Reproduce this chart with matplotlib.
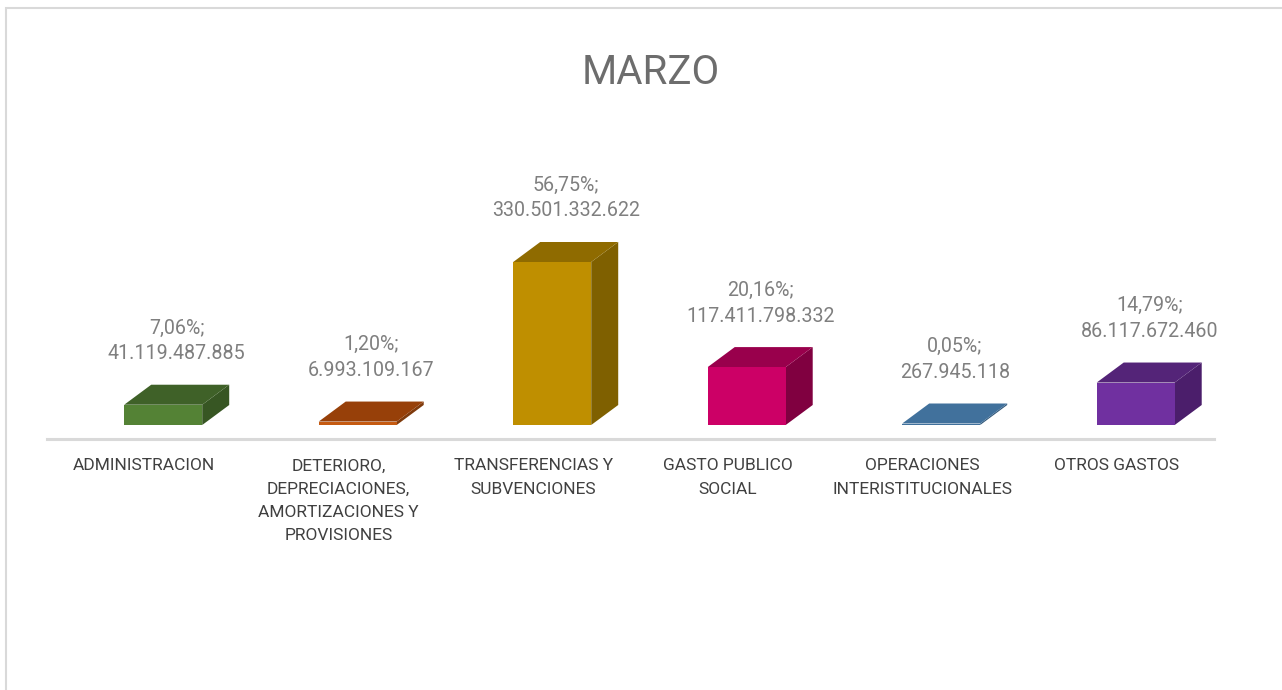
import matplotlib.pyplot as plt
from matplotlib.patches import Polygon, Rectangle

plt.rcParams['font.family'] = ['Roboto', 'DejaVu Sans']

# Data
categories = ['ADMINISTRACION', 'DETERIORO,\nDEPRECIACIONES,\nAMORTIZACIONES Y\nPROVISIONES',
              'TRANSFERENCIAS Y\nSUBVENCIONES', 'GASTO PUBLICO\nSOCIAL',
              'OPERACIONES\nINTERISTITUCIONALES', 'OTROS GASTOS']
values = [41119487885, 6993109167, 330501332622, 117411798332, 267945118, 86117672460]
pct_labels = ['7,06%', '1,20%', '56,75%', '20,16%', '0,05%', '14,79%']
value_labels = ['41.119.487.885', '6.993.109.167', '330.501.332.622',
                '117.411.798.332', '267.945.118', '86.117.672.460']

front_colors = ['#548235', '#c55a11', '#bf8f00', '#cc0066', '#41719c', '#7030a0']
top_colors = ['#3f6128', '#974009', '#8f6b00', '#99004c', '#41719c', '#542478']
side_colors = ['#375623', '#7f3a0c', '#7f6000', '#800040', '#335a7c', '#4b1e6b']

W, H = 1282, 690
fig = plt.figure(figsize=(W / 100, H / 100), dpi=100)

# outer chart border (right and bottom edges fall outside the picture)
fig.patches.append(Rectangle((6 / W, -0.1), 1.2, 1.1 - 8 / H, transform=fig.transFigure,
                             fill=False, edgecolor='#d9d9d9', linewidth=1.5))

# axes in pixel layout
ax_left, ax_right, ax_top, ax_bottom = 47, 1214, 100, 439
ax = fig.add_axes([ax_left / W, 1 - ax_bottom / H, (ax_right - ax_left) / W,
                   (ax_bottom - ax_top) / H])

px_per_unit = 163 / values[2]          # vertical scale
s = 1 / px_per_unit
ax.set_xlim(-0.5, len(values) - 0.5)
ax.set_ylim(-14 * s, (ax_bottom - ax_top - 14) * s)

bar_l, bar_r = -0.103, 0.298
dx = 27 / 194.5
dy = 20 * s

for i, v in enumerate(values):
    x0, x1 = i + bar_l, i + bar_r
    h = max(v, 1.5 * s)
    # side face
    ax.add_patch(Polygon([(x1, 0), (x1 + dx, dy), (x1 + dx, h + dy), (x1, h)],
                         closed=True, facecolor=side_colors[i], edgecolor='none'))
    # top face
    ax.add_patch(Polygon([(x0, h), (x1, h), (x1 + dx, h + dy), (x0 + dx, h + dy)],
                         closed=True, facecolor=top_colors[i], edgecolor='none'))
    # front face
    ax.add_patch(Rectangle((x0, 0), x1 - x0, h, facecolor=front_colors[i], edgecolor='none'))

    ax.annotate(pct_labels[i] + ';\n' + value_labels[i],
                xy=((x0 + x1 + dx) / 2, h + dy), xytext=(0, 15.5), textcoords='offset points',
                ha='center', va='bottom', fontsize=14.1, color='#7f7f7f', linespacing=1.45)

ax.set_xticks(range(len(categories)))
ax.set_xticklabels(categories, fontsize=12.5, color='#404040', linespacing=1.68, va='top')
ax.tick_params(axis='x', length=0, pad=14)
ax.set_yticks([])
for side in ['top', 'right', 'left']:
    ax.spines[side].set_visible(False)
ax.spines['bottom'].set_color('#d9d9d9')
ax.spines['bottom'].set_linewidth(2.2)
ax.patch.set_alpha(0)

fig.text(651 / W, 1 - 72 / H, 'MARZO', ha='center', va='center', fontsize=29, color='#6d6d6d')

plt.savefig('out.png', dpi=100)
